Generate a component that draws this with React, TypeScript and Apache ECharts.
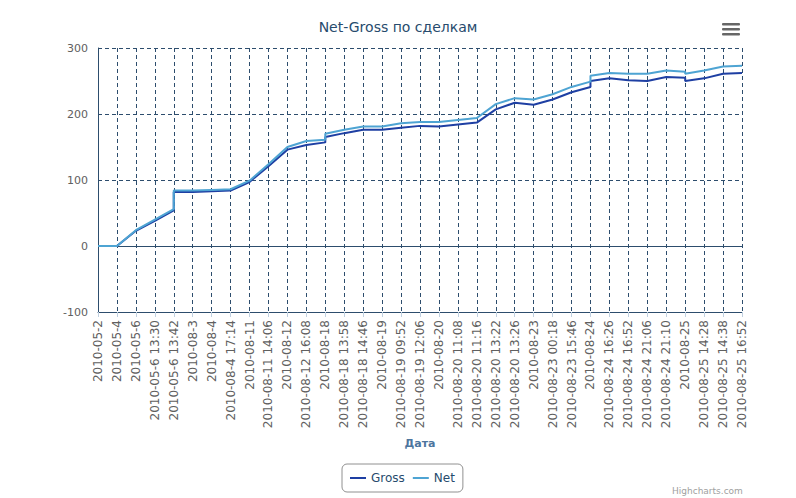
import React, { useEffect, useRef } from "react";
import * as echarts from "echarts";

const titleText = "Net-Gross по сделкам";
const xAxisName = "Дата";
const seriesNames = ["Gross", "Net"];
const creditText = "Highcharts.com";

const categories = [
  "2010-05-2", "2010-05-4", "2010-05-6", "2010-05-6 13:30", "2010-05-6 13:42",
  "2010-08-3", "2010-08-4", "2010-08-4 17:14", "2010-08-11", "2010-08-11 14:06",
  "2010-08-12", "2010-08-12 16:08", "2010-08-18", "2010-08-18 13:58", "2010-08-18 14:46",
  "2010-08-19", "2010-08-19 09:52", "2010-08-19 12:06", "2010-08-20", "2010-08-20 11:08",
  "2010-08-20 11:16", "2010-08-20 13:22", "2010-08-20 13:26", "2010-08-23", "2010-08-23 00:18",
  "2010-08-23 15:46", "2010-08-24", "2010-08-24 16:26", "2010-08-24 16:52", "2010-08-24 21:06",
  "2010-08-24 21:10", "2010-08-25", "2010-08-25 14:28", "2010-08-25 14:38", "2010-08-25 16:52",
];

// category index of every point (some categories hold two points: a vertical step)
const pointCategoryIndex = [
  0, 1, 2, 3, 4, 4, 5, 6, 7, 8, 9, 10, 11, 12, 12, 13, 14, 15, 16, 17, 18, 19, 20,
  21, 22, 23, 24, 25, 26, 26, 27, 28, 29, 30, 31, 31, 32, 33, 34,
];

const grossValues = [
  0, 0, 23, 38, 54, 82, 82, 83, 84, 97, 121, 146, 153, 157, 165, 171, 176, 176, 179, 182,
  181, 184, 187, 207, 217, 214, 222, 233, 241, 250, 254, 251, 250, 256, 255, 250, 254, 261, 262,
];

const netValues = [
  0, 0, 24, 40, 56, 84, 84, 85, 86, 99, 124, 150, 159, 161, 170, 176, 181, 181, 186, 188,
  188, 191, 194, 215, 224, 222, 230, 241, 249, 258, 262, 261, 261, 266, 264, 261, 266, 272, 273,
];

const yMin = -100;
const yMax = 300;
const yInterval = 100;
const zeroLine = 0;

const FONT = "DejaVu Sans";
const GRID_COLOR = "#2d4d6d";
const GROSS_COLOR = "#1e3fa3";
const NET_COLOR = "#4ea4d3";

export default function App() {
  const ref = useRef<HTMLDivElement>(null);

  useEffect(() => {
    if (!ref.current) return;
    const chart = echarts.init(ref.current, null, { renderer: "svg" });
    const toPairs = (vals: number[]) => pointCategoryIndex.map((c, k) => [c, vals[k]]);

    chart.setOption({
      animation: false,
      backgroundColor: "#ffffff",
      textStyle: { fontFamily: FONT },
      title: {
        text: titleText,
        left: "center",
        top: 20,
        padding: 0,
        textStyle: { fontSize: 14, fontWeight: "normal", color: "#274b6d", fontFamily: FONT },
      },
      legend: {
        data: seriesNames.map((n) => ({ name: n, icon: "rect" })),
        left: 342,
        top: 464,
        padding: [7, 8, 7, 8],
        borderColor: "#909090",
        borderWidth: 1,
        borderRadius: 5,
        itemWidth: 16,
        itemHeight: 2,
        itemGap: 8,
        textStyle: { fontSize: 12, color: "#274b6d", fontFamily: FONT, lineHeight: 14 },
      },
      grid: { left: 98, right: 54, top: 48, bottom: 186 },
      xAxis: {
        type: "category",
        data: categories,
        boundaryGap: false,
        axisLine: { onZero: false, lineStyle: { color: GRID_COLOR, width: 1 } },
        axisTick: { show: true, interval: 0, length: 5, lineStyle: { color: "#C0D0E0" } },
        axisLabel: { rotate: 90, interval: 0, margin: 8, fontSize: 12, color: "#606060", fontFamily: FONT },
        splitLine: { show: true, interval: 0, lineStyle: { color: GRID_COLOR, type: [4, 3], width: 1 } },
        name: xAxisName,
        nameLocation: "middle",
        nameGap: 126,
        nameTextStyle: { fontWeight: "bold", fontSize: 11, color: "#4d759e", fontFamily: FONT },
      },
      yAxis: {
        type: "value",
        min: yMin,
        max: yMax,
        interval: yInterval,
        axisLine: { show: true, lineStyle: { color: GRID_COLOR, width: 1 } },
        axisTick: { show: false },
        axisLabel: { margin: 10, fontSize: 11, color: "#606060", fontFamily: FONT },
        splitLine: { show: true, lineStyle: { color: GRID_COLOR, type: [4, 3], width: 1 } },
      },
      series: [
        {
          name: "zero",
          type: "line",
          z: 1,
          data: [],
          markLine: {
            z: 1,
            silent: true,
            symbol: "none",
            label: { show: false },
            lineStyle: { type: "solid", color: GRID_COLOR, width: 1 },
            data: [{ yAxis: zeroLine }],
          },
        },
        {
          name: seriesNames[0],
          type: "line",
          z: 3,
          symbol: "none",
          data: toPairs(grossValues),
          lineStyle: { width: 2, color: GROSS_COLOR },
          itemStyle: { color: GROSS_COLOR },
        },
        {
          name: seriesNames[1],
          type: "line",
          z: 4,
          symbol: "none",
          data: toPairs(netValues),
          lineStyle: { width: 2, color: NET_COLOR },
          itemStyle: { color: NET_COLOR },
        },
      ],
      graphic: [
        { type: "rect", shape: { x: 722, y: 23, width: 18, height: 2.6, r: 1 }, style: { fill: "#666666" } },
        { type: "rect", shape: { x: 722, y: 28, width: 18, height: 2.6, r: 1 }, style: { fill: "#666666" } },
        { type: "rect", shape: { x: 722, y: 33, width: 18, height: 2.6, r: 1 }, style: { fill: "#666666" } },
        {
          type: "text",
          x: 672,
          y: 486,
          style: { text: creditText, fontSize: 9, fill: "#a0a0a0", fontFamily: FONT, textVerticalAlign: "top" },
        },
      ],
    });

    return () => chart.dispose();
  }, []);

  return (
    <div
      ref={ref}
      style={{ position: "fixed", left: 0, top: 0, width: 796, height: 498 }}
    />
  );
}
